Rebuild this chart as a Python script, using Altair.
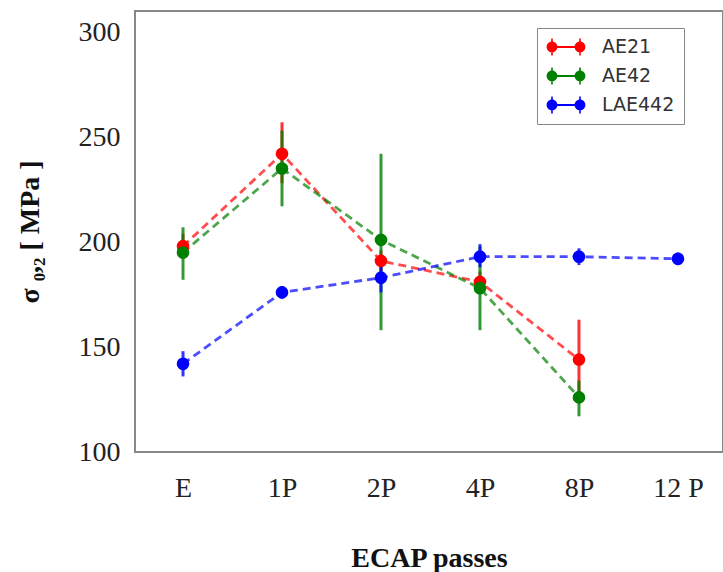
import altair as alt
import pandas as pd

passes = ["E", "1P", "2P", "4P", "8P", "12 P"]
series = ["AE21", "AE42", "LAE442"]
colors = ["#ff0000", "#008000", "#0000ff"]

ae21_val = [198, 242, 191, 181, 144]
ae21_lo = [192, 228, 186, 176, 125]
ae21_hi = [204, 257, 196, 186, 163]

ae42_val = [195, 235, 201, 178, 126]
ae42_lo = [182, 217, 158, 158, 117]
ae42_hi = [207, 253, 242, 198, 134]

lae_val = [142, 176, 183, 193, 193, 192]
lae_lo = [136, 173, 176, 188, 189, 189]
lae_hi = [148, 179, 190, 199, 197, 195]

rows = []
for name, vals, los, his in [
    ("AE21", ae21_val, ae21_lo, ae21_hi),
    ("AE42", ae42_val, ae42_lo, ae42_hi),
    ("LAE442", lae_val, lae_lo, lae_hi),
]:
    for i, (v, lo, hi) in enumerate(zip(vals, los, his)):
        rows.append({"series": name, "idx": i, "pass": passes[i], "val": v, "lo": lo, "hi": hi})
df = pd.DataFrame(rows)

label_expr = "[" + ",".join("'%s'" % p for p in passes) + "][datum.value]"

x_enc = alt.X(
    "idx:Q",
    scale=alt.Scale(domain=[-0.485, 5.455], nice=False, zero=False),
    axis=alt.Axis(values=list(range(len(passes))), labelExpr=label_expr,
                  title="ECAP passes", labelPadding=22, titlePadding=42),
)
y_scale = alt.Scale(domain=[100, 310], nice=False, zero=False)
y_axis = alt.Axis(values=[100, 150, 200, 250, 300], title="σ ₀,₂ [ MPa ]",
                  labelPadding=15, titlePadding=34)

color_scale = alt.Scale(domain=series, range=colors)

# legend glyph: two markers with error ticks joined by a short line (units of 10 px)
SYMBOL = (
    "M-0.94,0A0.54,0.54 0 1 1 0.14,0A0.54,0.54 0 1 1 -0.94,0Z "
    "M1.86,0A0.54,0.54 0 1 1 2.94,0A0.54,0.54 0 1 1 1.86,0Z "
    "M-0.4,-0.09L2.4,-0.09L2.4,0.09L-0.4,0.09Z "
    "M-0.48,-0.84L-0.32,-0.84L-0.32,0.84L-0.48,0.84Z "
    "M2.32,-0.84L2.48,-0.84L2.48,0.84L2.32,0.84Z"
)

legend = alt.Legend(
    title=None, orient="none", legendX=402, legendY=17,
    symbolType=SYMBOL, symbolSize=400, symbolStrokeWidth=0, symbolOpacity=1,
    labelFont="DejaVu Sans", labelFontSize=19, labelColor="#333",
    padding=9, labelOffset=36, rowPadding=9,
    strokeColor="#888", fillColor="white",
)

color_enc = alt.Color("series:N", scale=color_scale, legend=legend)

base = alt.Chart(df)

rules = base.mark_rule(strokeWidth=3, opacity=0.8).encode(
    x=x_enc,
    y=alt.Y("lo:Q", scale=y_scale, axis=y_axis),
    y2="hi:Q",
    color=color_enc,
)

lines = base.mark_line(strokeDash=[8, 5], strokeWidth=2.8, opacity=0.7).encode(
    x=x_enc,
    y=alt.Y("val:Q", scale=y_scale, axis=y_axis),
    color=color_enc,
    order="idx:Q",
)

points = base.mark_point(filled=True, size=160, opacity=1).encode(
    x=x_enc,
    y=alt.Y("val:Q", scale=y_scale, axis=y_axis),
    color=color_enc,
)

chart = (
    alt.layer(rules, lines, points)
    .properties(
        width=588, height=441, autosize="none",
        padding={"left": 135, "top": 11, "right": 0, "bottom": 120},
        background="white",
    )
    .configure_axis(
        labelFont="Liberation Serif", labelFontSize=28, labelColor="#222",
        titleFont="Liberation Serif", titleFontSize=28, titleFontWeight="bold",
        titleColor="#111", grid=False, ticks=False, domain=False,
    )
    .configure_legend(symbolType=SYMBOL)
    .configure_view(stroke="#888", strokeWidth=2)
)

chart.save("out.html", embed_options={"renderer": "svg", "actions": False})
